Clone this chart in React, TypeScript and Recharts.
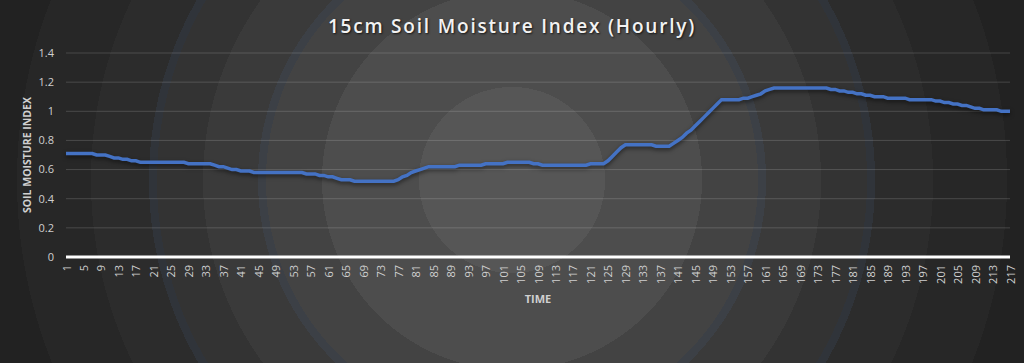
import { CartesianGrid, Label, Line, LineChart, XAxis, YAxis } from "recharts"

// hourly readings, 217 hours
const hours = Array.from({ length: 217 }, (_, i) => i + 1)

const moisture = [
  0.71, 0.71, 0.71, 0.71, 0.71, 0.71, 0.71, 0.7, 0.7, 0.7,
  0.69, 0.68, 0.68, 0.67, 0.67, 0.66, 0.66, 0.65, 0.65, 0.65,
  0.65, 0.65, 0.65, 0.65, 0.65, 0.65, 0.65, 0.65, 0.64, 0.64,
  0.64, 0.64, 0.64, 0.64, 0.63, 0.62, 0.62, 0.61, 0.6, 0.6,
  0.59, 0.59, 0.59, 0.58, 0.58, 0.58, 0.58, 0.58, 0.58, 0.58,
  0.58, 0.58, 0.58, 0.58, 0.58, 0.57, 0.57, 0.57, 0.56, 0.56,
  0.55, 0.55, 0.54, 0.53, 0.53, 0.53, 0.52, 0.52, 0.52, 0.52,
  0.52, 0.52, 0.52, 0.52, 0.52, 0.52, 0.53, 0.55, 0.56, 0.58,
  0.59, 0.6, 0.61, 0.62, 0.62, 0.62, 0.62, 0.62, 0.62, 0.62,
  0.63, 0.63, 0.63, 0.63, 0.63, 0.63, 0.64, 0.64, 0.64, 0.64,
  0.64, 0.65, 0.65, 0.65, 0.65, 0.65, 0.65, 0.64, 0.64, 0.63,
  0.63, 0.63, 0.63, 0.63, 0.63, 0.63, 0.63, 0.63, 0.63, 0.63,
  0.64, 0.64, 0.64, 0.64, 0.66, 0.69, 0.72, 0.75, 0.77, 0.77,
  0.77, 0.77, 0.77, 0.77, 0.77, 0.76, 0.76, 0.76, 0.76, 0.78,
  0.8, 0.82, 0.85, 0.87, 0.9, 0.93, 0.96, 0.99, 1.02, 1.05,
  1.08, 1.08, 1.08, 1.08, 1.08, 1.09, 1.09, 1.1, 1.11, 1.12,
  1.14, 1.15, 1.16, 1.16, 1.16, 1.16, 1.16, 1.16, 1.16, 1.16,
  1.16, 1.16, 1.16, 1.16, 1.16, 1.15, 1.15, 1.14, 1.14, 1.13,
  1.13, 1.12, 1.12, 1.11, 1.11, 1.1, 1.1, 1.1, 1.09, 1.09,
  1.09, 1.09, 1.09, 1.08, 1.08, 1.08, 1.08, 1.08, 1.08, 1.07,
  1.07, 1.06, 1.06, 1.05, 1.05, 1.04, 1.04, 1.03, 1.02, 1.02,
  1.01, 1.01, 1.01, 1.01, 1.0, 1.0, 1.0,
]

const yTicks = [0, 0.2, 0.4, 0.6, 0.8, 1, 1.2, 1.4]

const data = hours.map((h, i) => ({ hour: h, value: moisture[i] }))

const FONT = "'Open Sans', sans-serif"
const TEXT = "#d0d0d0"

// dark radial backdrop with the soft rings of the original
const background =
  "radial-gradient(circle at 512px 180px, #565656 0 93px, #4d4d4d 93px 190px, #434343 190px 246px, #3c4046 246px 254px, #3a3a3a 254px 309px, #333333 309px 355px, #30343a 355px 363px, #2c2c2c 363px 421px, #272727 421px 495px, #222222 495px 560px, #1e1e1e 560px)"

function HourTick({ x, y, payload }: any) {
  return (
    <text
      x={x}
      y={y}
      transform={`rotate(-90 ${x} ${y})`}
      textAnchor="end"
      dominantBaseline="central"
      fill={TEXT}
      fontSize={11}
      fontFamily={FONT}
    >
      {payload.value}
    </text>
  )
}

export default function App() {
  return (
    <div
      style={{
        position: "absolute",
        left: 0,
        top: 0,
        width: 1024,
        height: 363,
        background,
        fontFamily: FONT,
      }}
    >
      <style>{`.recharts-line-curve { filter: drop-shadow(0px 2px 2px rgba(0,0,0,0.55)); }`}</style>
      <div
        style={{
          position: "absolute",
          left: 0,
          top: 13,
          width: 1024,
          textAlign: "center",
          fontSize: 19,
          lineHeight: "26px",
          fontWeight: 600,
          letterSpacing: 1.8,
          color: "#f2f2f2",
          textShadow: "1px 1px 2px rgba(0,0,0,0.7)",
        }}
      >
        15cm Soil Moisture Index (Hourly)
      </div>
      <LineChart
        width={1024}
        height={363}
        data={data}
        margin={{ top: 53, right: 14, bottom: 0, left: 0 }}
      >
        <CartesianGrid
          vertical={false}
          stroke="rgba(255,255,255,0.16)"
          strokeWidth={1}
        />
        <XAxis
          dataKey="hour"
          interval={3}
          height={106}
          tickLine={false}
          axisLine={{ stroke: "#ffffff", strokeWidth: 3 }}
          tick={<HourTick />}
        >
          <Label
            content={() => (
              <text
                x={538}
                y={298}
                textAnchor="middle"
                dominantBaseline="central"
                fill={TEXT}
                fontSize={11}
                fontWeight={700}
                fontFamily={FONT}
              >
                TIME
              </text>
            )}
          />
        </XAxis>
        <YAxis
          width={66}
          domain={[0, 1.4]}
          ticks={yTicks}
          axisLine={false}
          tickLine={false}
          tickSize={0}
          tickMargin={12}
          tick={{ fill: TEXT, fontSize: 11, fontFamily: FONT }}
        >
          <Label
            content={() => (
              <text
                x={27}
                y={155}
                transform="rotate(-90 27 155)"
                textAnchor="middle"
                dominantBaseline="central"
                fill={TEXT}
                fontSize={10.5}
                fontWeight={700}
                fontFamily={FONT}
              >
                SOIL MOISTURE INDEX
              </text>
            )}
          />
        </YAxis>
        <Line
          type="linear"
          dataKey="value"
          stroke="#4472c4"
          strokeWidth={3.5}
          dot={false}
          activeDot={false}
          isAnimationActive={false}
        />
      </LineChart>
    </div>
  )
}
